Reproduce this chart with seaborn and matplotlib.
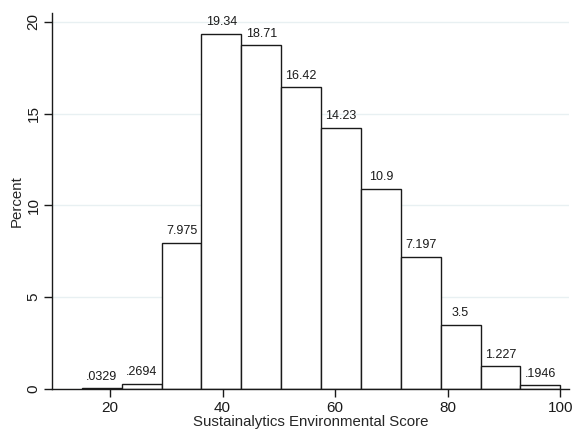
import numpy as np
import pandas as pd
import seaborn as sns
import matplotlib
matplotlib.use("Agg")
import matplotlib.pyplot as plt

# Data
bin_edges = [15.0, 22.083, 29.167, 36.25, 43.333, 50.417, 57.5,
             64.583, 71.667, 78.75, 85.833, 92.917, 100.0]
percent = [0.0329, 0.2694, 7.975, 19.34, 18.71, 16.42, 14.23,
           10.9, 7.197, 3.5, 1.227, 0.1946]
bar_labels = [".0329", ".2694", "7.975", "19.34", "18.71", "16.42", "14.23",
              "10.9", "7.197", "3.5", "1.227", ".1946"]
x_ticks = [20, 40, 60, 80, 100]
y_ticks = [0, 5, 10, 15, 20]

centers = [(bin_edges[i] + bin_edges[i + 1]) / 2 for i in range(len(percent))]
df = pd.DataFrame({"score": centers, "pct": percent})

sns.set_style("white")
plt.rcParams["font.family"] = ["Liberation Sans", "DejaVu Sans"]
plt.rcParams.update({
    "xtick.bottom": True, "ytick.left": True,
    "xtick.major.size": 5.5, "ytick.major.size": 5.5,
    "xtick.major.width": 1.0, "ytick.major.width": 1.0,
    "xtick.direction": "out", "ytick.direction": "out",
    "xtick.color": "#1a1a1a", "ytick.color": "#1a1a1a",
})

fig = plt.figure(figsize=(5.83, 4.38), dpi=100)
ax = fig.add_axes([0.0897, 0.1119, 0.8868, 0.8591])

sns.histplot(data=df, x="score", weights="pct", bins=bin_edges, stat="count",
             color="white", edgecolor="#1a1a1a", linewidth=1.0, alpha=1.0, ax=ax)

ax.bar_label(ax.containers[0], labels=bar_labels, padding=4, fontsize=9,
             color="#1a1a1a")

ax.set_xlim(9.76, 101.6)
ax.set_ylim(0, 20.49)
ax.set_xticks(x_ticks)
ax.set_yticks(y_ticks)
ax.set_yticklabels([str(t) for t in y_ticks], rotation=90, va="center")
ax.tick_params(axis="both", which="major", bottom=True, left=True,
               direction="out", length=5.5, width=1.0,
               color="#1a1a1a", labelcolor="#1a1a1a", labelsize=11, pad=3)
ax.set_xlabel("Sustainalytics Environmental Score", fontsize=10.8, labelpad=0)
ax.set_ylabel("Percent", fontsize=10.8, labelpad=2)

ax.yaxis.grid(True, color="#e8f0f2", linewidth=1.0)
ax.xaxis.grid(False)
ax.set_axisbelow(True)
for s in ["top", "right"]:
    ax.spines[s].set_visible(False)
for s in ["left", "bottom"]:
    ax.spines[s].set_color("#1a1a1a")
    ax.spines[s].set_linewidth(1.0)

fig.savefig("out.png", dpi=100)
